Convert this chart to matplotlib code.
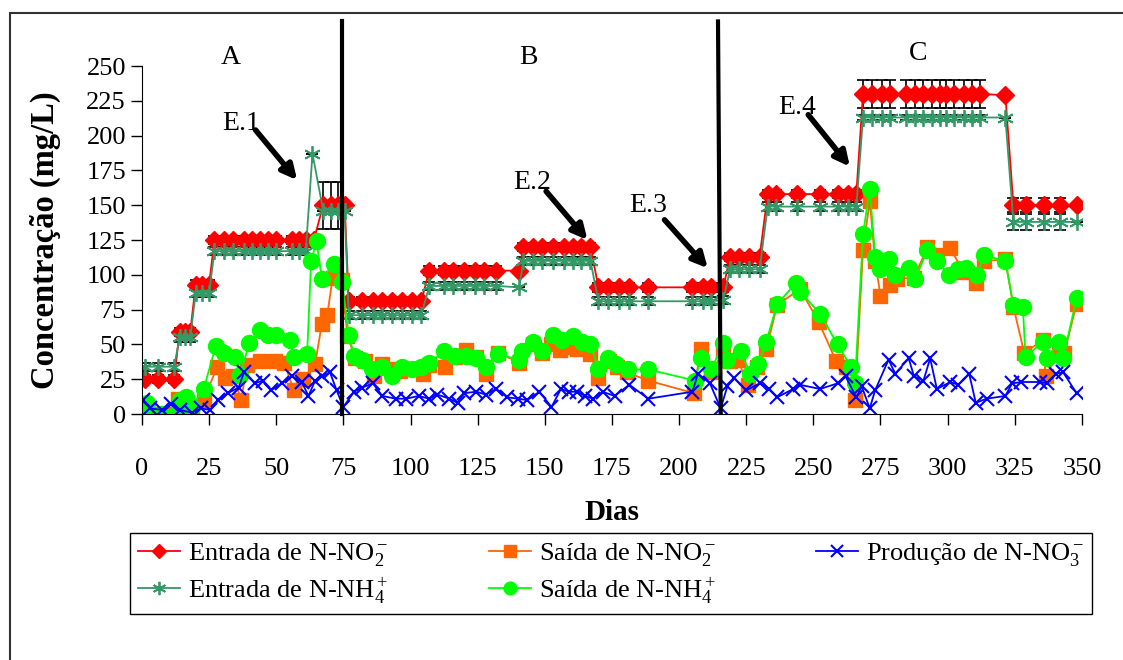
import matplotlib
matplotlib.use('Agg')
import matplotlib.pyplot as plt
from matplotlib.patches import Rectangle

plt.rcParams['font.family'] = ['Liberation Serif', 'DejaVu Serif']
plt.rcParams['mathtext.fontset'] = 'custom'
plt.rcParams['mathtext.rm'] = 'Liberation Serif'
plt.rcParams['mathtext.it'] = 'Liberation Serif:italic'

# Entrada de N-NO2- (afluente)
dias_ent = [1, 6, 12, 14, 16, 18, 20, 22.5, 25, 27, 30.5, 34, 38, 41, 44, 47, 50, 56, 58.5, 61, 64,
            67.5, 70.5, 73, 75.5,
            77, 82, 86, 89.5, 93, 97, 100.5, 104, 107, 112.5, 116, 120, 124, 127.5, 132, 140.5,
            142, 145.5, 149, 153, 157, 160.5, 163.5, 167, 170, 173.5, 177.5, 181.5, 188.5, 205, 209, 212,
            216.5, 219, 222.5, 226, 230, 233, 236, 244, 252.5, 259, 263, 266,
            268.5, 272, 275.5, 278.5, 284.5, 288, 291, 294, 297, 299.5, 302.5, 306, 309, 312, 321.5,
            324.5, 329, 336, 342, 348]
ent_no2 = [25, 25, 25, 59, 59, 59, 93, 93, 93, 125, 125, 125, 125, 125, 125, 125, 125, 125, 125, 125, 125,
           150, 150, 150, 150,
           81, 81, 81, 81, 81, 81, 81, 81, 103, 103, 103, 103, 103, 103, 103, 103,
           120, 120, 120, 120, 120, 120, 120, 120, 91, 91, 91, 91, 91, 91, 91, 91,
           91, 113, 113, 113, 113, 158, 158, 158, 158, 158, 158, 158,
           230, 230, 230, 230, 230, 230, 230, 230, 230, 230, 230, 230, 230, 230, 229,
           150, 150, 150, 150, 150]
err_no2 = [3, 3, 3, 3, 3, 3, 3, 3, 3, 3, 3, 3, 3, 3, 3, 3, 3, 3, 3, 3, 3,
           17, 17, 17, 0,
           3, 3, 3, 3, 3, 3, 3, 3, 3, 3, 3, 3, 3, 3, 3, 0,
           3, 3, 3, 3, 3, 3, 3, 3, 3, 3, 3, 3, 3, 3, 3, 3,
           3, 3, 3, 3, 3, 3, 3, 3, 3, 3, 3, 3,
           10, 10, 10, 10, 10, 10, 10, 10, 10, 10, 10, 10, 10, 10, 0,
           5, 5, 5, 5, 0]

# Entrada de N-NH4+
dias_ent_nh4 = [1, 6, 12, 14, 16, 18, 20, 22.5, 25, 27, 30.5, 34, 38, 41, 44, 47, 50, 56, 58.5, 61, 63.5,
                67.5, 70.5, 73, 75.5,
                77, 82, 86, 89.5, 93, 97, 100.5, 104, 107, 112.5, 116, 120, 124, 127.5, 132, 140.5,
                142, 145.5, 149, 153, 157, 160.5, 163.5, 167, 170, 173.5, 177.5, 181.5, 188.5, 205, 209, 212,
                216.5, 219, 222.5, 226, 230, 233, 236, 244, 252.5, 259, 263, 266,
                268.5, 272, 275.5, 278.5, 284.5, 288, 291, 294, 297, 299.5, 302.5, 306, 309, 312, 321.5,
                324.5, 329, 336, 342, 348]
ent_nh4 = [34, 34, 34, 55, 55, 55, 87, 87, 87, 117, 117, 117, 117, 117, 117, 117, 117, 117, 117, 117, 187,
           146, 146, 146, 146,
           71, 71, 71, 71, 71, 71, 71, 71, 92, 92, 92, 92, 92, 92, 92, 91,
           110, 110, 110, 110, 110, 110, 110, 110, 81, 81, 81, 81, 81, 81, 81, 81,
           82, 104, 104, 104, 104, 149, 149, 149, 149, 149, 149, 149,
           213, 213, 213, 213, 213, 213, 213, 213, 213, 213, 213, 213, 213, 213, 213,
           138, 138, 138, 138, 138]
err_nh4 = [3, 3, 3, 3, 3, 3, 3, 3, 3, 3, 3, 3, 3, 3, 3, 3, 3, 3, 3, 3, 0,
           0, 0, 0, 0,
           3, 3, 3, 3, 3, 3, 3, 3, 3, 3, 3, 3, 3, 3, 3, 0,
           3, 3, 3, 3, 3, 3, 3, 3, 3, 3, 3, 3, 3, 3, 3, 3,
           3, 3, 3, 3, 3, 3, 3, 3, 3, 3, 3, 3,
           2, 2, 2, 2, 2, 2, 2, 2, 2, 2, 2, 2, 2, 2, 0,
           6, 6, 6, 6, 0]

# Saida de N-NO2-
dias_sai_no2 = [0.5, 3, 6, 9, 13.5, 16, 18.5, 23, 28, 31, 34, 37, 39, 44, 49.5, 53, 56.5, 60, 64.5, 67, 69, 71, 74.5,
                76.5, 79.5, 83, 86.5, 89.5, 93, 96, 99.5, 104.5, 107, 113, 116.5, 120.5, 124.5, 128, 132.5, 140.5,
                145.5, 149, 152.5, 155.5, 159, 162, 167, 170, 174, 177, 180.5, 188.5, 205.5, 208, 212,
                216.5, 219, 222, 225.5, 229, 232.5, 236.5, 245, 252, 258.5, 262, 265.5, 268.5, 271, 273, 275,
                278.5, 281, 287.5, 292.5, 296, 301, 306, 310.5, 313.5, 321.5, 324.5, 328.5, 335.5, 336.5,
                341.5, 343.5, 348]
sai_no2 = [1, 0, 0, 0, 11, 4, 1, 10, 34, 26, 27, 10, 35, 38, 38, 37, 17, 25, 36, 65, 71, 98, 96,
           56, 40, 38, 27, 36, 32, 31, 32, 29, 35, 34, 41, 46, 41, 29, 44, 37,
           50, 44, 50, 46, 48, 47, 43, 26, 38, 34, 30, 24, 15, 47, 30,
           45, 38, 39, 21, 34, 47, 78, 90, 66, 38, 34, 10, 118, 153, 110, 85,
           93, 97, 98, 120, 114, 119, 102, 94, 110, 111, 77, 44, 53, 27,
           45, 44, 79]

# Saida de N-NH4+
dias_sai_nh4 = [1, 2, 7, 12.5, 14, 16.5, 18.5, 23, 27.5, 30.5, 34.5, 36.5, 40, 44, 47, 50, 55, 56.5, 61.5,
                63, 65, 67, 71.5, 74.5,
                77, 79, 82, 85.5, 89.5, 93, 97, 100.5, 104, 107, 112.5, 116.5, 120.5, 124.5, 128, 132.5, 140.5,
                141.5, 145.5, 149, 153, 156.5, 160.5, 164, 167, 170, 173.5, 176.5, 181, 188.5, 206, 208, 212,
                216.5, 218, 223, 226.5, 229.5, 232.5, 236.5, 243.5, 245, 252.5, 259, 264, 265.5, 268.5, 271,
                273, 275, 278, 280.5, 285.5, 288, 292.5, 296, 300.5, 304, 307, 311, 313.5, 321.5, 324.5, 328,
                329, 335.5, 337, 341.5, 343, 348]
sai_nh4 = [5, 8, 0, 0, 10, 12, 5, 18, 49, 44, 41, 28, 51, 60, 57, 57, 53, 41, 43,
           110, 124, 97, 108, 95,
           57, 42, 39, 32, 34, 27, 34, 32, 34, 37, 45, 42, 42, 40, 34, 43, 39,
           45, 52, 45, 57, 53, 56, 52, 50, 32, 40, 36, 32, 32, 24, 40, 32,
           51, 39, 45, 29, 36, 52, 79, 94, 88, 72, 50, 34, 22, 129, 162,
           113, 104, 111, 100, 105, 97, 118, 110, 100, 104, 105, 100, 114, 110, 78, 77,
           41, 52, 40, 52, 40, 83]

# Producao de N-NO3-
dias_prod_no3 = [0.5, 3, 7.5, 11, 14, 18.5, 22, 25.5, 28.5, 32, 36, 38, 42, 45, 48, 52, 56, 59.5, 62, 64.5,
                 67, 70, 72.5, 75,
                 79, 82, 86, 89.5, 94.5, 98.5, 103, 107, 110, 114.5, 117.5, 120, 124.5, 128, 132, 136, 140,
                 143.5, 148, 152.5, 156, 159, 162, 165, 168, 171.5, 176, 181.5, 188.5, 205, 207, 211.5, 215.5,
                 218, 220.5, 225, 230, 233.5, 236.5, 242.5, 245, 252.5, 259, 262, 266, 268, 271, 273, 278,
                 280.5, 285.5, 287.5, 291, 293.5, 296, 301, 304, 308, 310.5, 314.5, 321.5, 324, 327.5, 334.5,
                 337, 340.5, 343, 348]
prod_no3 = [10, 4, 3, 7, 3, 1, 4, 3, 10, 15, 19, 30, 22, 24, 17, 22, 27, 23, 13, 24,
            27, 30, 17, 5,
            16, 19, 22, 13, 11, 11, 13, 11, 14, 11, 8, 15, 16, 14, 18, 12, 11,
            10, 16, 5, 18, 16, 16, 13, 11, 16, 13, 21, 11, 16, 29, 22, 4,
            20, 26, 17, 22, 18, 12, 18, 21, 18, 22, 27, 12, 20, 4, 17, 39,
            29, 40, 27, 24, 40, 18, 23, 21, 29, 8, 11, 13, 22, 23, 23,
            22, 29, 30, 15]

fig = plt.figure(figsize=(11.23, 6.6), dpi=100)
ax = fig.add_axes([0.1264, 0.3727, 0.837, 0.5273])

# barras de erro
ax.errorbar(dias_ent, ent_no2, yerr=err_no2, fmt='none', ecolor='black', elinewidth=1.2, capsize=4, capthick=1.2)
ax.errorbar(dias_ent_nh4, ent_nh4, yerr=err_nh4, fmt='none', ecolor='black', elinewidth=1.2, capsize=4, capthick=1.2)

l1, = ax.plot(dias_ent, ent_no2, color='#FF0000', marker='D', ms=9.5, lw=1.3, label='Entrada de N-NO$_2^-$')
l4, = ax.plot(dias_ent_nh4, ent_nh4, color='#339966', marker=(6, 2, 0), ms=12, mew=1.3, lw=1.3,
              label='Entrada de N-NH$_4^+$')
l2, = ax.plot(dias_sai_no2, sai_no2, color='#FF6600', marker='s', ms=10, lw=1.3, label='Saída de N-NO$_2^-$')
l5, = ax.plot(dias_sai_nh4, sai_nh4, color='#00FF00', marker='o', ms=11.5, lw=1.3, label='Saída de N-NH$_4^+$')
l3, = ax.plot(dias_prod_no3, prod_no3, color='#0000FF', marker='x', ms=10, mew=1.5, lw=1.3,
              label='Produção de N-NO$_3^-$')

# divisao das fases
ax.plot([74.5, 74.5], [0, 282], color='black', lw=3, clip_on=False)
ax.plot([214.5, 215.5], [282, 1], color='black', lw=3, clip_on=False)

for txt, x, y in [('A', 33, 256), ('B', 144, 256), ('C', 289, 259)]:
    ax.text(x, y, txt, fontsize=20, ha='center', va='center', clip_on=False)

setas = [('E.1', 37, 209, (42.3, 204), (57.8, 168)),
         ('E.2', 145.3, 166, (150.5, 160), (165.9, 125)),
         ('E.3', 188.3, 150, (194.6, 139.5), (210.7, 104.7)),
         ('E.4', 244, 220, (248.1, 215), (263.6, 177.7))]
for txt, tx, ty, p0, p1 in setas:
    ax.text(tx, ty, txt, fontsize=20, ha='center', va='center')
    ax.annotate('', xy=p1, xytext=p0,
                arrowprops=dict(arrowstyle='-|>', color='black', lw=4, mutation_scale=22,
                                shrinkA=0, shrinkB=0))

ax.set_xlim(0, 350)
ax.set_ylim(0, 250)
ax.set_xticks(range(0, 351, 25))
ax.set_yticks(range(0, 251, 25))
ax.spines['top'].set_visible(False)
ax.spines['right'].set_visible(False)
ax.tick_params(direction='out', length=8, width=1, labelsize=19)
ax.tick_params(axis='x', pad=24)
ax.set_xlabel('Dias', fontsize=21, fontweight='bold', labelpad=13)
ax.set_ylabel('Concentração (mg/L)', fontsize=23.5, fontweight='bold', labelpad=18)

fig.legend(handles=[l1, l4, l2, l5, l3], ncol=3, loc='upper left',
           bbox_to_anchor=(0.116, 0.078, 0.856, 0.114), mode='expand', borderaxespad=0,
           fontsize=19, frameon=True, fancybox=False, edgecolor='black', framealpha=1,
           handlelength=1.6, handletextpad=0.3, columnspacing=1.0, borderpad=0.3, labelspacing=0.25,
           markerscale=0.8)

fig.add_artist(Rectangle((0.009, -0.2), 1.5, 1.18, transform=fig.transFigure,
                         fill=False, lw=1.5, edgecolor='#333333'))

fig.savefig('out.png', dpi=100)
